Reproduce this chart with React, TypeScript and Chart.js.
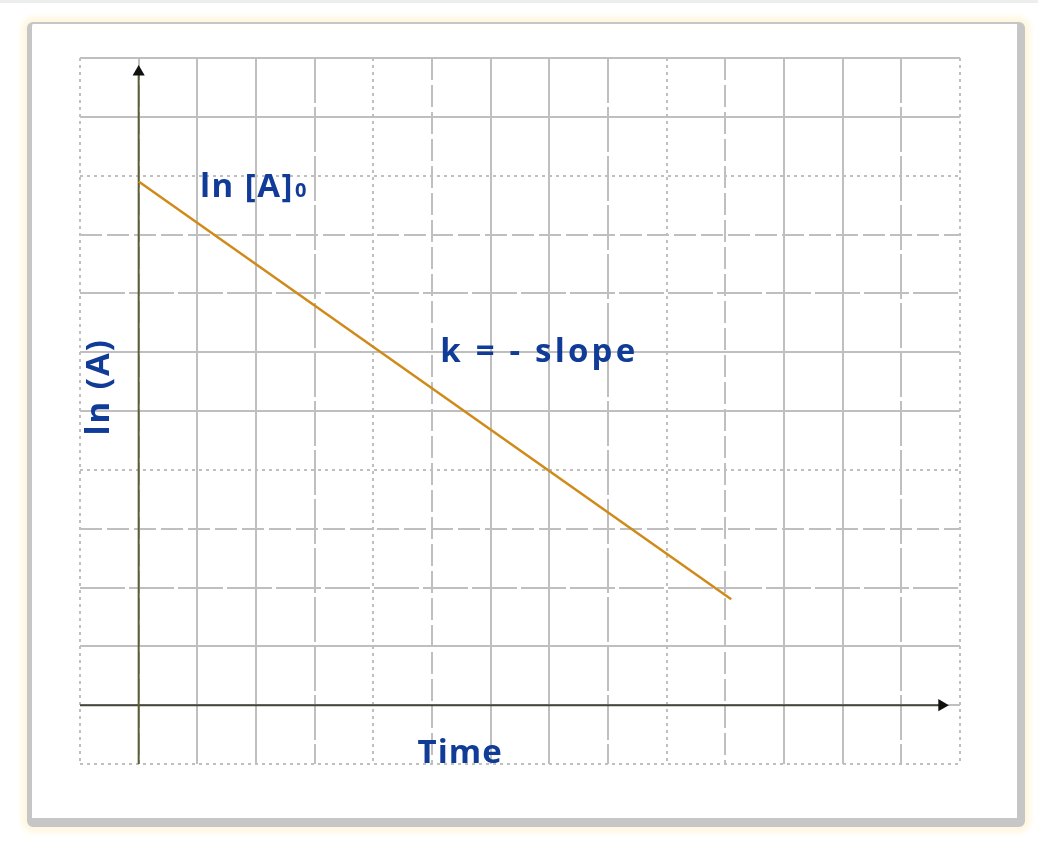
import React, { useEffect, useRef } from "react";
import { Chart, registerables } from "chart.js";

Chart.register(...registerables);

// ---- data ----
const xGridValues = [-1, 0, 1, 2, 3, 4, 5, 6, 7, 8, 9, 10, 11, 12, 13, 14];
const yGridValues = [-1, 0, 1, 2, 3, 4, 5, 6, 7, 8, 9, 10, 11];
const timeValues = [0, 10.1];
const lnAValues = [8.9, 1.8];
const xAxisExtent = [-1, 13.69];
const yAxisExtent = [-1, 10.76];
const lnA0Label = "ln [A]";
const lnA0Sub = "0";
const slopeLabel = "k = - slope";
const yTitle = "ln (A)";
const xTitle = "Time";

const GRID_COLOR = "#bfbfbf";
const TEXT_COLOR = "#103c98";
const FONT = '"Open Sans", "DejaVu Sans", sans-serif';

function vDash(v: number): number[] {
  if (v === -1 || v === 14) return [3, 4];
  const m = ((v % 5) + 5) % 5;
  if (m === 1 || m === 2) return [];
  if (m === 3) return [45, 4];
  if (m === 4) return [3, 4];
  return [22, 5];
}

function hDash(v: number): number[] {
  if (v === -1) return [3, 4];
  if (v === 11) return [];
  const m = ((v % 5) + 5) % 5;
  if (m === 0 || m === 1) return [];
  if (m === 2) return [45, 4];
  if (m === 3) return [22, 5];
  return [3, 4];
}

const gridPlugin = {
  id: "paperGrid",
  beforeDatasetsDraw(chart: any) {
    const { ctx, scales } = chart;
    const xs = scales.x;
    const ys = scales.y;
    const top = ys.getPixelForValue(11);
    const bottom = ys.getPixelForValue(-1);
    const left = xs.getPixelForValue(-1);
    const right = xs.getPixelForValue(14);
    ctx.save();
    ctx.lineCap = "butt";
    ctx.strokeStyle = GRID_COLOR;
    ctx.lineWidth = 2;
    xGridValues.forEach((v) => {
      const px = Math.round(xs.getPixelForValue(v));
      ctx.setLineDash(vDash(v));
      ctx.beginPath();
      ctx.moveTo(px, top);
      ctx.lineTo(px, bottom);
      ctx.stroke();
    });
    yGridValues.forEach((v) => {
      const py = Math.round(ys.getPixelForValue(v));
      ctx.setLineDash(hDash(v));
      ctx.beginPath();
      ctx.moveTo(left, py);
      ctx.lineTo(right, py);
      ctx.stroke();
    });
    ctx.restore();
  },
};

const textPlugin = {
  id: "labels",
  afterDatasetsDraw(chart: any) {
    const { ctx, scales } = chart;
    const xs = scales.x;
    const ys = scales.y;
    ctx.save();
    ctx.fillStyle = TEXT_COLOR;
    ctx.textBaseline = "alphabetic";
    const setSpacing = (s: string) => {
      try {
        (ctx as any).letterSpacing = s;
      } catch (e) {}
    };
    // ln [A]0
    ctx.font = `700 33px ${FONT}`;
    setSpacing("1.5px");
    ctx.textAlign = "left";
    const lx = xs.getPixelForValue(1.045);
    const ly = ys.getPixelForValue(8.64);
    ctx.fillText(lnA0Label, lx, ly);
    const w = ctx.measureText(lnA0Label).width;
    ctx.font = `700 20px ${FONT}`;
    setSpacing("0px");
    ctx.fillText(lnA0Sub, lx + w + 1, ly);
    // slope
    ctx.font = `700 33px ${FONT}`;
    setSpacing("3.2px");
    ctx.fillText(slopeLabel, xs.getPixelForValue(5.14), ys.getPixelForValue(5.83));
    // x title
    setSpacing("1px");
    ctx.textAlign = "center";
    ctx.fillText(xTitle, xs.getPixelForValue(5.48), ys.getPixelForValue(-0.98));
    // y title
    setSpacing("2px");
    ctx.save();
    ctx.translate(xs.getPixelForValue(-0.66), ys.getPixelForValue(5.41));
    ctx.rotate(-Math.PI / 2);
    ctx.textBaseline = "middle";
    ctx.fillText(yTitle, 0, 0);
    ctx.restore();
    ctx.restore();
  },
};

export default function App() {
  const canvasRef = useRef<HTMLCanvasElement | null>(null);

  useEffect(() => {
    const canvas = canvasRef.current;
    if (!canvas) return;
    const chart = new Chart(canvas, {
      type: "scatter",
      data: {
        datasets: [
          {
            data: timeValues.map((t, i) => ({ x: t, y: lnAValues[i] })),
            showLine: true,
            borderColor: "#d08a1a",
            borderWidth: 2.5,
            pointRadius: 0,
          },
          {
            data: [
              { x: 0, y: yAxisExtent[0] },
              { x: 0, y: yAxisExtent[1] },
            ],
            showLine: true,
            borderColor: "#5c5c36",
            borderWidth: 2,
            pointRadius: [0, 7],
            pointStyle: "triangle",
            pointRotation: 0,
            pointBackgroundColor: "#111111",
            pointBorderColor: "#111111",
            pointBorderWidth: 0,
          },
          {
            data: [
              { x: xAxisExtent[0], y: 0 },
              { x: xAxisExtent[1], y: 0 },
            ],
            showLine: true,
            borderColor: "#45453c",
            borderWidth: 2,
            pointRadius: [0, 7],
            pointStyle: "triangle",
            pointRotation: 90,
            pointBackgroundColor: "#111111",
            pointBorderColor: "#111111",
            pointBorderWidth: 0,
          },
        ],
      },
      options: {
        animation: false,
        responsive: false,
        maintainAspectRatio: false,
        layout: { padding: { left: 80, top: 58, right: 78, bottom: 79 } },
        scales: {
          x: { type: "linear", min: -1, max: 14, display: false },
          y: { type: "linear", min: -1, max: 11, display: false },
        },
        plugins: {
          legend: { display: false },
          tooltip: { enabled: false },
        },
        events: [],
      },
      plugins: [gridPlugin, textPlugin],
    } as any);
    return () => chart.destroy();
  }, []);

  return (
    <div
      style={{
        position: "fixed",
        left: 0,
        top: 0,
        width: 1038,
        height: 843,
        background: "#ffffff",
        overflow: "hidden",
      }}
    >
      <div
        style={{
          position: "absolute",
          left: 0,
          top: 0,
          width: 1038,
          height: 3,
          background: "#eceeee",
        }}
      />
      <div
        style={{
          position: "absolute",
          left: 27,
          top: 22,
          width: 998,
          height: 805,
          boxSizing: "border-box",
          borderStyle: "solid",
          borderColor: "#c6c6c6",
          borderTopWidth: 2,
          borderLeftWidth: 5,
          borderRightWidth: 8,
          borderBottomWidth: 9,
          borderRadius: 6,
          background: "#ffffff",
          boxShadow: "0 0 6px 5px #fff6de",
        }}
      />
      <canvas
        ref={canvasRef}
        width={1038}
        height={843}
        style={{ position: "absolute", left: 0, top: 0, width: 1038, height: 843 }}
      />
    </div>
  );
}
